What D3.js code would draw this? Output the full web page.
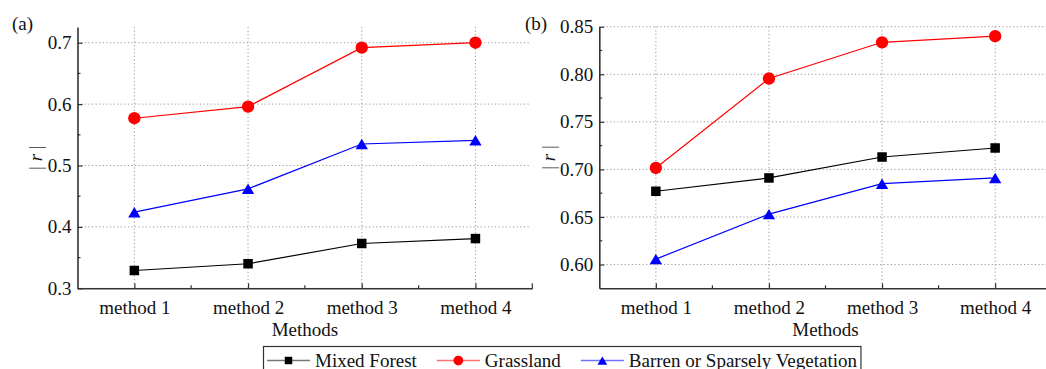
<!DOCTYPE html>
<html>
<head>
<meta charset="utf-8">
<script src="https://cdn.jsdelivr.net/npm/d3@7"></script>
<style>
  body { margin: 0; background: #fff; }
  svg { display: block; font-family: "Liberation Serif", "Times New Roman", serif; }
</style>
</head>
<body>
<div id="chart"></div>
<script>
const methods = ["method 1", "method 2", "method 3", "method 4"];
const seriesNames = ["Mixed Forest", "Grassland", "Barren or Sparsely Vegetation"];
const seriesColors = ["#000000", "#ff0000", "#0000ff"];
const seriesShapes = ["square", "circle", "triangle"];

// panel (a)
const forestA = [0.329, 0.340, 0.373, 0.381];
const grassA = [0.577, 0.596, 0.692, 0.700];
const barrenA = [0.424, 0.462, 0.535, 0.541];
const ticksA = [0.3, 0.4, 0.5, 0.6, 0.7];
const minorA = [0.35, 0.45, 0.55, 0.65];

// panel (b)
const forestB = [0.677, 0.691, 0.713, 0.7225];
const grassB = [0.7015, 0.7955, 0.8336, 0.840];
const barrenB = [0.6057, 0.653, 0.685, 0.691];
const ticksB = [0.60, 0.65, 0.70, 0.75, 0.80, 0.85];
const minorB = [0.625, 0.675, 0.725, 0.775, 0.825];

const W = 1046, H = 369;
const svg = d3.select("#chart").append("svg").attr("width", W).attr("height", H);

function marker(g, shape, x, y, s, color) {
  if (shape === "circle") {
    g.append("circle").attr("cx", x).attr("cy", y).attr("r", s * 0.65).attr("fill", color);
  } else if (shape === "square") {
    g.append("rect").attr("x", x - s / 2).attr("y", y - s / 2)
      .attr("width", s).attr("height", s).attr("fill", color);
  } else {
    const w = s * 1.3, h = s * 1.1;
    g.append("path")
      .attr("d", `M${x},${y - h / 2}L${x + w / 2},${y + h / 2}L${x - w / 2},${y + h / 2}Z`)
      .attr("fill", color);
  }
}

function panel(opts) {
  const { left, right, top, bottom, domain, ticks, minor, fmt, series, label, labelX, yLabelX, gridRight } = opts;
  const g = svg.append("g");

  const x = d3.scalePoint().domain(methods).range([left, right]).padding(0.5);
  const y = d3.scaleLinear().domain(domain).range([bottom, top]);

  // grid
  g.append("g").selectAll("line").data(ticks).join("line")
    .attr("x1", left).attr("x2", gridRight)
    .attr("y1", d => y(d)).attr("y2", d => y(d))
    .attr("stroke", "#999").attr("stroke-width", 1).attr("stroke-dasharray", "1.2,2.4");
  g.append("g").selectAll("line").data(methods).join("line")
    .attr("x1", d => x(d)).attr("x2", d => x(d))
    .attr("y1", top).attr("y2", bottom)
    .attr("stroke", "#999").attr("stroke-width", 1).attr("stroke-dasharray", "1.2,2.4");

  // y axis
  const yAxis = d3.axisLeft(y).tickValues(ticks).tickFormat(d3.format(fmt))
    .tickSizeInner(-5).tickSizeOuter(0).tickPadding(6);
  const ya = g.append("g").attr("transform", `translate(${left},0)`).call(yAxis);
  ya.selectAll("text").attr("font-size", 19).attr("fill", "#111")
    .attr("font-family", "Liberation Serif");
  g.append("g").selectAll("line").data(minor).join("line")
    .attr("x1", left).attr("x2", left + 3)
    .attr("y1", d => y(d)).attr("y2", d => y(d))
    .attr("stroke", "#333").attr("stroke-width", 1.2);

  // x axis
  const xAxis = d3.axisBottom(x).tickSizeInner(-5).tickSizeOuter(0).tickPadding(12);
  const xa = g.append("g").attr("transform", `translate(0,${bottom})`).call(xAxis);
  xa.selectAll("text").attr("font-size", 19).attr("fill", "#111")
    .attr("font-family", "Liberation Serif");
  const step = x.step();
  const xMinor = methods.slice(1).map(m => x(m) - step / 2).concat([right]);
  g.append("g").selectAll("line").data(xMinor).join("line")
    .attr("x1", d => d).attr("x2", d => d)
    .attr("y1", bottom).attr("y2", (d, i) => bottom - (i === xMinor.length - 1 ? 5 : 3))
    .attr("stroke", "#333").attr("stroke-width", 1.2);

  [ya, xa].forEach(a => {
    a.select(".domain").attr("stroke", "#333").attr("stroke-width", 1.6);
    a.selectAll(".tick line").attr("stroke", "#333").attr("stroke-width", 1.2);
  });

  // lines + markers
  series.forEach((vals, si) => {
    const line = d3.line().x((d, i) => x(methods[i])).y(d => y(d));
    g.append("path").datum(vals).attr("d", line)
      .attr("fill", "none").attr("stroke", seriesColors[si]).attr("stroke-width", 1.2);
    const mg = g.append("g");
    vals.forEach((v, i) => marker(mg, seriesShapes[si], x(methods[i]), y(v), 9.5, seriesColors[si]));
  });

  // labels
  g.append("text").attr("x", (left + right) / 2).attr("y", 336)
    .attr("text-anchor", "middle").attr("font-size", 19).attr("fill", "#111").text("Methods");
  const yl = g.append("text")
    .attr("transform", `translate(${yLabelX},${(top + bottom) / 2}) rotate(-90)`)
    .attr("text-anchor", "middle").attr("dy", "0.35em").attr("font-size", 19).attr("fill", "#333");
  yl.append("tspan").text("| ");
  yl.append("tspan").attr("font-style", "italic").attr("fill", "#111").text("r");
  yl.append("tspan").text(" |");
  g.append("text").attr("x", labelX).attr("y", 30)
    .attr("font-size", 19).attr("fill", "#111").text(label);
}

panel({
  left: 77.5, right: 532.3, top: 27, bottom: 288.3, gridRight: 530,
  domain: [0.3, 0.7256], ticks: ticksA, minor: minorA, fmt: ".1f",
  series: [forestA, grassA, barrenA], label: "(a)", labelX: 12, yLabelX: 35
});
panel({
  left: 599.3, right: 1051.7, top: 26.7, bottom: 288.3, gridRight: 1046,
  domain: [0.575, 0.85], ticks: ticksB, minor: minorB, fmt: ".2f",
  series: [forestB, grassB, barrenB], label: "(b)", labelX: 525, yLabelX: 548
});

// legend
const lg = svg.append("g");
const legendBox = lg.append("rect").attr("x", 263.5).attr("y", 346.5)
  .attr("height", 30).attr("fill", "#fff").attr("stroke", "#333").attr("stroke-width", 1.2);
let lx = 267;
seriesNames.forEach((name, i) => {
  const light = i === 0 ? "#777" : i === 1 ? "#ff7070" : "#7070ff";
  lg.append("line").attr("x1", lx).attr("x2", lx + 43).attr("y1", 360.5).attr("y2", 360.5)
    .attr("stroke", light).attr("stroke-width", 1.5);
  marker(lg, seriesShapes[i], lx + 21.5, 360.5, 7.5, seriesColors[i]);
  const t = lg.append("text").attr("x", lx + 48).attr("y", 366.5)
    .attr("font-size", 19).attr("fill", "#111").text(name);
  lx = lx + 48 + t.node().getComputedTextLength() + 20;
});
legendBox.attr("width", lx - 20 + 4 - 263.5);
</script>
</body>
</html>
